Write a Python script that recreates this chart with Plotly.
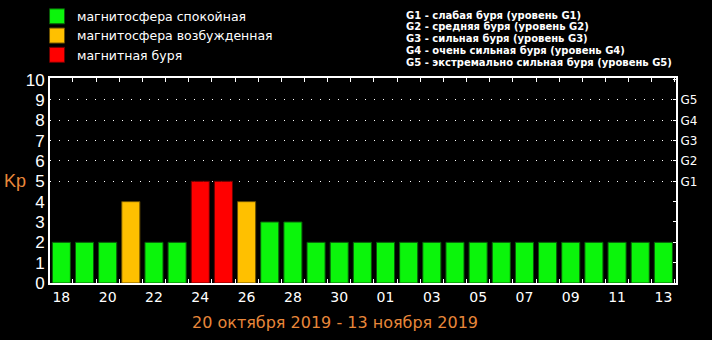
import plotly.graph_objects as go

days = ["18", "19", "20", "21", "22", "23", "24", "25", "26", "27", "28", "29", "30", "31",
        "01", "02", "03", "04", "05", "06", "07", "08", "09", "10", "11", "12", "13"]
kp = [2, 2, 2, 4, 2, 2, 5, 5, 4, 3, 3, 2, 2, 2,
      2, 2, 2, 2, 2, 2, 2, 2, 2, 2, 2, 2, 2]
levels = ["магнитосфера спокойная", "магнитосфера возбужденная", "магнитная буря"]
level_colors = ["#0BF50B", "#FFC000", "#FF0000"]
edge_colors = ["#0A5A0A", "#6A5000", "#6A0000"]
g_labels = ["G1", "G2", "G3", "G4", "G5"]
g_values = [5, 6, 7, 8, 9]
g_notes = ["G1 - слабая буря (уровень G1)",
           "G2 - средняя буря (уровень G2)",
           "G3 - сильная буря (уровень G3)",
           "G4 - очень сильная буря (уровень G4)",
           "G5 - экстремально сильная буря (уровень G5)"]
title_text = "20 октября 2019 - 13 ноября 2019"


def level_of(v):
    if v >= 5:
        return 2
    if v >= 4:
        return 1
    return 0


idx = list(range(len(days)))
fig = go.Figure()
for li, name in enumerate(levels):
    xs = [i for i in idx if level_of(kp[i]) == li]
    ys = [kp[i] for i in xs]
    fig.add_trace(go.Bar(
        x=xs, y=ys, name=name, width=0.78, legendgroup=name, showlegend=False,
        marker=dict(color=level_colors[li], line=dict(color=edge_colors[li], width=1)),
        hoverinfo="skip",
    ))
    # legend key with a larger square swatch
    fig.add_trace(go.Scatter(
        x=[None], y=[None], name=name, legendgroup=name, mode="markers",
        marker=dict(symbol="square", size=15, color=level_colors[li],
                    line=dict(color=edge_colors[li], width=1)),
        hoverinfo="skip",
    ))

# invisible trace to activate the right axis
fig.add_trace(go.Scatter(x=[0], y=[0], yaxis="y2", xaxis="x", mode="markers",
                         marker=dict(opacity=0), showlegend=False, hoverinfo="skip"))

fig.update_layout(
    width=712, height=340,
    margin=dict(l=50, r=36, t=78, b=57, autoexpand=False),
    paper_bgcolor="black", plot_bgcolor="black",
    barmode="overlay",
    showlegend=True,
    legend=dict(x=0.052, y=0.995, xref="container", yref="container",
                xanchor="left", yanchor="top",
                bgcolor="rgba(0,0,0,0)", itemsizing="trace",
                font=dict(family="DejaVu Sans", size=12.5, color="white"),
                tracegroupgap=0, itemclick=False),
    xaxis=dict(
        range=[-0.49, 26.545],
        tickvals=idx[::2], ticktext=days[::2],
        ticks="", showgrid=False, zeroline=False,
        showline=True, linecolor="white", linewidth=2, mirror="allticks",
        tickfont=dict(family="DejaVu Sans", size=14, color="white"),
        minor=dict(tick0=0.5, dtick=1, ticks="inside", ticklen=4,
                   tickcolor="white", tickwidth=1, showgrid=False),
    ),
    yaxis=dict(
        range=[0, 10.08],
        tickvals=list(range(11)), ticktext=[str(v) for v in range(11)],
        ticks="", showgrid=False, zeroline=False,
        showline=True, linecolor="white", linewidth=2,
        tickfont=dict(family="Liberation Sans", size=17, color="white"),
        ticklabelstandoff=0,
    ),
    yaxis2=dict(
        range=[0, 10.08], overlaying="y", side="right",
        tickvals=g_values, ticktext=g_labels,
        ticks="inside", ticklen=3, tickcolor="white",
        showgrid=True, gridcolor="white", gridwidth=1, griddash="1px,8px",
        zeroline=False, showline=True, linecolor="white", linewidth=2,
        tickfont=dict(family="DejaVu Sans", size=12, color="white"),
        minor=dict(dtick=1, tick0=0, ticks="inside", ticklen=3, tickcolor="white",
                   showgrid=False),
    ),
)

annotations = [
    dict(text="Kp", xref="paper", yref="y", x=-0.056, y=5, xanchor="center",
         yanchor="middle", showarrow=False,
         font=dict(family="Liberation Sans", size=18, color="#E8873A")),
    dict(text=title_text, xref="paper", yref="paper", x=0.455, y=-0.135,
         xanchor="center", yanchor="top", showarrow=False,
         font=dict(family="DejaVu Sans", size=16, color="#E8873A")),
]
for k, note in enumerate(g_notes):
    annotations.append(dict(
        text=note, xref="paper", yref="paper", x=0.565, y=1.307 - k * 0.058,
        xanchor="left", yanchor="middle", showarrow=False,
        font=dict(family="DejaVu Sans", size=10, color="white", weight="bold")))
fig.update_layout(annotations=annotations)

fig.write_html("out.html")
